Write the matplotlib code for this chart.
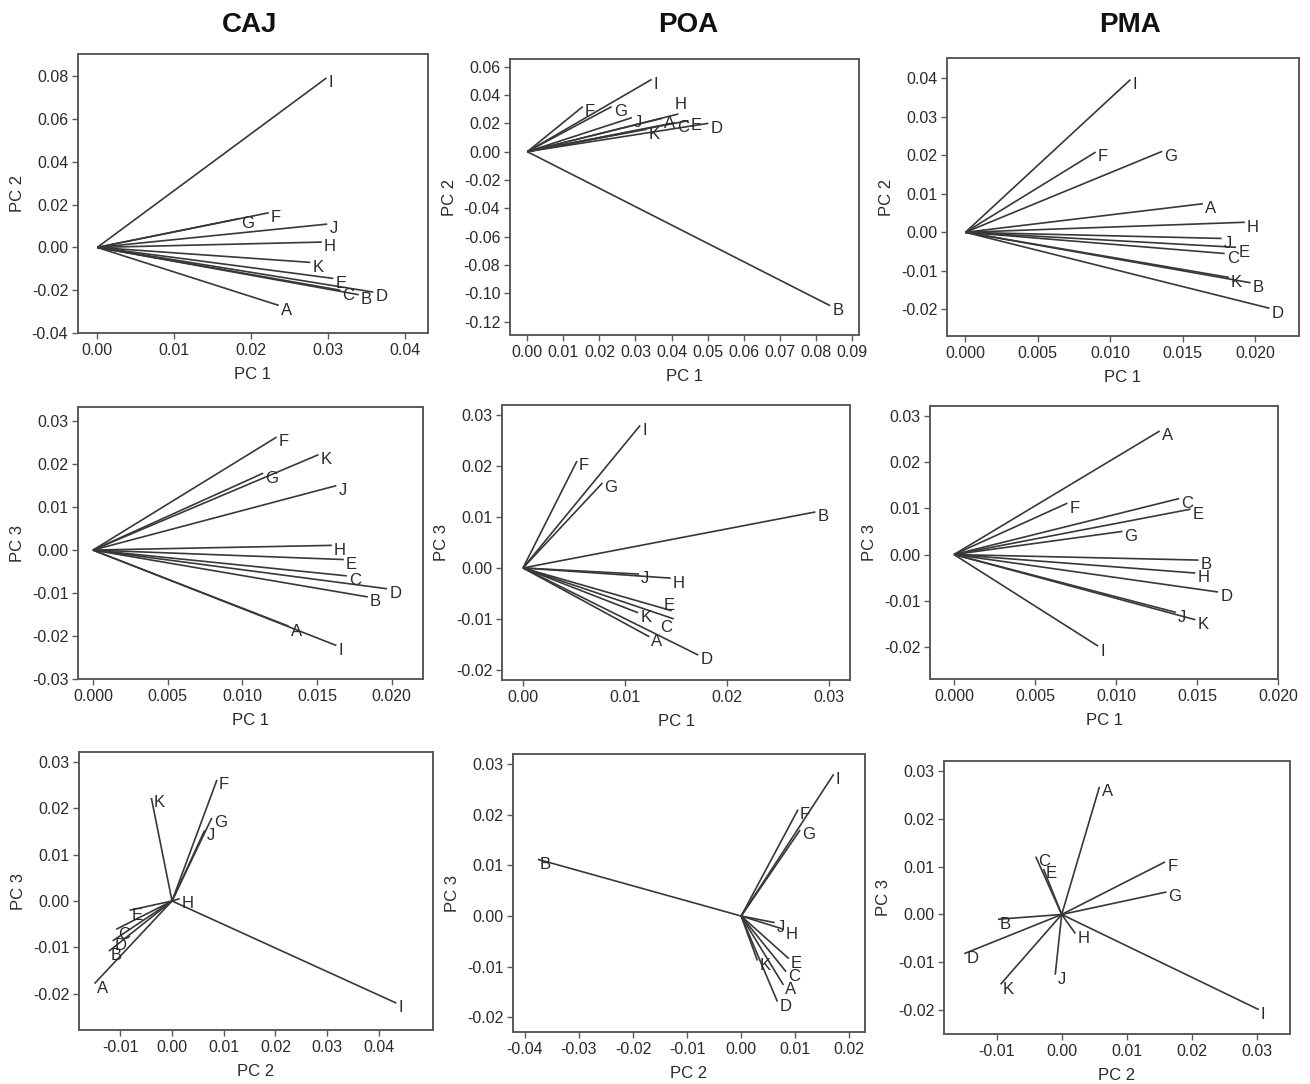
import numpy as np
import matplotlib
matplotlib.use("Agg")
import matplotlib.pyplot as plt

plt.rcParams["font.family"] = ["Liberation Sans", "DejaVu Sans"]

names = ["A", "B", "C", "D", "E", "F", "G", "H", "I", "J", "K"]
sites = ["CAJ", "POA", "PMA"]

# loadings, order A..K
caj_pc1_x = [0.0236, 0.0340, 0.0316, 0.0359, 0.0307, 0.0223, 0.0185, 0.0292, 0.0298, 0.0299, 0.0277]
caj_pc1_y = [-0.0271, -0.0221, -0.0200, -0.0209, -0.0145, 0.0162, 0.0135, 0.0025, 0.0792, 0.0109, -0.0070]
poa_pc1_x = [0.0373, 0.0840, 0.0410, 0.0502, 0.0447, 0.0154, 0.0234, 0.0419, 0.0345, 0.0290, 0.0331]
poa_pc1_y = [0.0235, -0.1087, 0.0205, 0.0200, 0.0219, 0.0318, 0.0318, 0.0266, 0.0510, 0.0240, 0.0158]
pma_pc1_x = [0.0164, 0.0197, 0.0179, 0.0210, 0.0187, 0.0090, 0.0136, 0.0193, 0.0114, 0.0177, 0.0182]
pma_pc1_y = [0.0074, -0.0131, -0.0055, -0.0197, -0.0039, 0.0208, 0.0210, 0.0026, 0.0396, -0.0016, -0.0117]

caj_pc13_x = [0.0131, 0.0184, 0.0170, 0.0197, 0.0168, 0.0123, 0.0114, 0.0160, 0.0163, 0.0163, 0.0151]
caj_pc13_y = [-0.0177, -0.0109, -0.0060, -0.0090, -0.0022, 0.0263, 0.0179, 0.0011, -0.0222, 0.0150, 0.0222]
poa_pc13_x = [0.0124, 0.0287, 0.0148, 0.0172, 0.0146, 0.0053, 0.0078, 0.0145, 0.0115, 0.0114, 0.0113]
poa_pc13_y = [-0.0135, 0.0110, -0.0100, -0.0171, -0.0084, 0.0210, 0.0167, -0.0020, 0.0280, -0.0012, -0.0088]
pma_pc13_x = [0.0127, 0.0151, 0.0139, 0.0163, 0.0146, 0.0070, 0.0104, 0.0149, 0.0089, 0.0137, 0.0149]
pma_pc13_y = [0.0267, -0.0012, 0.0121, -0.0081, 0.0098, 0.0111, 0.0050, -0.0040, -0.0198, -0.0125, -0.0141]

caj_pc23_x = [-0.0150, -0.0122, -0.0108, -0.0115, -0.0082, 0.0087, 0.0077, 0.0015, 0.0434, 0.0063, -0.0040]
caj_pc23_y = [-0.0178, -0.0108, -0.0061, -0.0086, -0.0020, 0.0261, 0.0179, 0.0005, -0.0220, 0.0152, 0.0222]
poa_pc23_x = [0.0078, -0.0376, 0.0083, 0.0067, 0.0088, 0.0105, 0.0109, 0.0078, 0.0171, 0.0062, 0.0030]
poa_pc23_y = [-0.0136, 0.0112, -0.0110, -0.0169, -0.0084, 0.0210, 0.0170, -0.0026, 0.0280, -0.0013, -0.0088]
pma_pc23_x = [0.0058, -0.0098, -0.0040, -0.0150, -0.0028, 0.0159, 0.0161, 0.0021, 0.0303, -0.0010, -0.0094]
pma_pc23_y = [0.0267, -0.0010, 0.0121, -0.0082, 0.0095, 0.0110, 0.0047, -0.0040, -0.0199, -0.0126, -0.0146]

panels = [
    # (x, y, box px [left, top, right, bottom], xlim, ylim, xticks, yticks, xfmt, yfmt, xlabel, ylabel)
    (caj_pc1_x, caj_pc1_y, [78, 54, 428, 333], (-0.0025, 0.043), (-0.04, 0.0904),
     np.arange(0, 0.041, 0.01), np.arange(-0.04, 0.081, 0.02), "%.2f", "%.2f", "PC 1", "PC 2"),
    (poa_pc1_x, poa_pc1_y, [510, 59, 859, 335], (-0.0048, 0.092), (-0.1294, 0.0654),
     np.arange(0, 0.091, 0.01), np.arange(-0.12, 0.061, 0.02), "%.2f", "%.2f", "PC 1", "PC 2"),
    (pma_pc1_x, pma_pc1_y, [947, 58, 1299, 336], (-0.00127, 0.02304), (-0.0269, 0.0452),
     np.arange(0, 0.0201, 0.005), np.arange(-0.02, 0.041, 0.01), "%.3f", "%.2f", "PC 1", "PC 2"),
    (caj_pc13_x, caj_pc13_y, [78, 407, 423, 679], (-0.001, 0.0221), (-0.030, 0.0333),
     np.arange(0, 0.0201, 0.005), np.arange(-0.03, 0.031, 0.01), "%.3f", "%.2f", "PC 1", "PC 3"),
    (poa_pc13_x, poa_pc13_y, [502, 405, 850, 680], (-0.00206, 0.0321), (-0.022, 0.032),
     np.arange(0, 0.031, 0.01), np.arange(-0.02, 0.031, 0.01), "%.2f", "%.2f", "PC 1", "PC 3"),
    (pma_pc13_x, pma_pc13_y, [930, 406, 1278, 679], (-0.00148, 0.020), (-0.0269, 0.0321),
     np.arange(0, 0.0201, 0.005), np.arange(-0.02, 0.031, 0.01), "%.3f", "%.2f", "PC 1", "PC 3"),
    (caj_pc23_x, caj_pc23_y, [79, 752, 433, 1030], (-0.018, 0.0505), (-0.0278, 0.0321),
     np.arange(-0.01, 0.041, 0.01), np.arange(-0.02, 0.031, 0.01), "%.2f", "%.2f", "PC 2", "PC 3"),
    (poa_pc23_x, poa_pc23_y, [513, 754, 865, 1032], (-0.0422, 0.0229), (-0.0229, 0.032),
     np.arange(-0.04, 0.021, 0.01), np.arange(-0.02, 0.031, 0.01), "%.2f", "%.2f", "PC 2", "PC 3"),
    (pma_pc23_x, pma_pc23_y, [944, 761, 1290, 1034], (-0.0181, 0.0351), (-0.025, 0.0321),
     np.arange(-0.01, 0.031, 0.01), np.arange(-0.02, 0.031, 0.01), "%.2f", "%.2f", "PC 2", "PC 3"),
]

# a few labels sit elsewhere than right-below the tip (panel index, name) -> offset in points
label_shift = {
    (1, "H"): (-3, 7),
    (4, "E"): (-6, 4),
    (4, "C"): (-10, -6),
}

W, H = 1310, 1084
fig = plt.figure(figsize=(W / 100, H / 100), dpi=100)

line_c = "#383838"
spine_c = "#5a5a5a"
text_c = "#2a2a2a"

for i, (x, y, box, xlim, ylim, xt, yt, xf, yf, xl, yl) in enumerate(panels):
    l, t, r, b = box
    ax = fig.add_axes([l / W, 1 - b / H, (r - l) / W, (b - t) / H])
    for xi, yi, nm in zip(x, y, names):
        ax.plot([0, xi], [0, yi], color=line_c, lw=1.2, solid_capstyle="butt")
        off = label_shift.get((i, nm), (1.5, -3.5))
        ax.annotate(nm, (xi, yi), xytext=off, textcoords="offset points",
                    ha="left", va="center", fontsize=12, color=text_c)
    ax.set_xlim(*xlim)
    ax.set_ylim(*ylim)
    ax.set_xticks(xt)
    ax.set_yticks(yt)
    ax.set_xticklabels([xf % v if abs(v) > 1e-9 else xf % 0 for v in xt])
    ax.set_yticklabels([yf % v if abs(v) > 1e-9 else yf % 0 for v in yt])
    ax.tick_params(direction="out", length=4, width=1, color=spine_c,
                   labelsize=11.5, labelcolor=text_c, pad=3)
    for s in ax.spines.values():
        s.set_color(spine_c)
        s.set_linewidth(1.4)
    ax.set_xlabel(xl, fontsize=12, color=text_c, labelpad=7)
    ax.set_ylabel(yl, fontsize=12, color=text_c, labelpad=5)

for name, cx in zip(sites, [250, 688, 1130]):
    fig.text(cx / W, 1 - 25 / H, name, ha="center", va="center",
             fontsize=20, fontweight="bold", color="#111111")

fig.savefig("out.png", dpi=100)
